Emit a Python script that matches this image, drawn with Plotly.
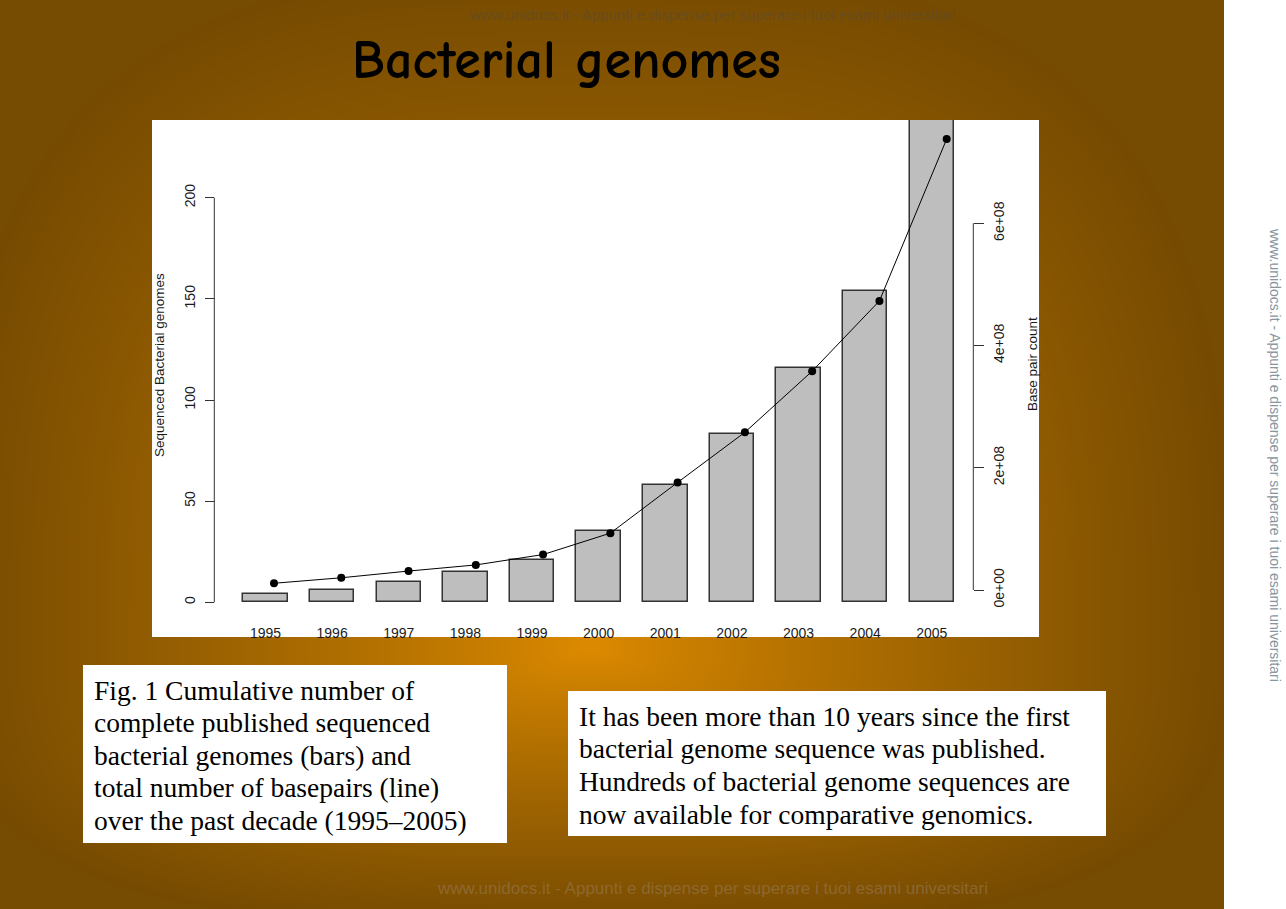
import base64
import struct
import zlib

import numpy as np
import plotly.graph_objects as go

# ---------------- data ----------------
years = [1995, 1996, 1997, 1998, 1999, 2000, 2001, 2002, 2003, 2004, 2005]
genomes = [4, 6, 10, 15, 21, 35, 58, 83, 116, 154, 240]
basepairs = [1.1e7, 2.0e7, 3.1e7, 4.1e7, 5.8e7, 9.3e7, 1.76e8, 2.58e8, 3.58e8, 4.73e8, 7.38e8]
year_labels = [str(y) for y in years]
left_ticks = [0, 50, 100, 150, 200]
right_ticks = [0, 2e8, 4e8, 6e8]
right_tick_labels = ["0e+00", "2e+08", "4e+08", "6e+08"]

title_text = "Bacterial genomes"
caption_lines = ["Fig. 1 Cumulative number of",
                 "complete published sequenced",
                 "bacterial genomes (bars) and",
                 "total number of basepairs (line)",
                 "over the past decade (1995–2005)"]
note_lines = ["It has been more than 10 years since the first",
              "bacterial genome sequence was published.",
              "Hundreds of bacterial genome sequences are",
              "now available for comparative genomics."]
watermark_text = "www.unidocs.it - Appunti e dispense per superare i tuoi esami universitari"

# ---------------- geometry helpers ----------------
W, H = 1286, 909


def px(x):
    return x / W


def py(y):
    return 1 - y / H


# ---------------- background gradient image ----------------
def make_png(rgb):
    h, w, _ = rgb.shape
    raw = b"".join(b"\x00" + rgb[i].tobytes() for i in range(h))

    def chunk(t, d):
        c = struct.pack(">I", len(d)) + t + d
        return c + struct.pack(">I", zlib.crc32(t + d) & 0xFFFFFFFF)

    return (b"\x89PNG\r\n\x1a\n"
            + chunk(b"IHDR", struct.pack(">IIBBBBB", w, h, 8, 2, 0, 0, 0))
            + chunk(b"IDAT", zlib.compress(raw, 9))
            + chunk(b"IEND", b""))


s = 2
gw, gh = W // s, H // s + 1
xs = (np.arange(gw) + 0.5) * s
ys = (np.arange(gh) + 0.5) * s
X, Y = np.meshgrid(xs, ys)
cx, cy = 590, 650
dx = np.abs(X - cx) / 640
dy = np.where(Y < cy, (cy - Y) / 680, (Y - cy) / 280)
t = np.clip((dx ** 3 + dy ** 3) ** (1 / 3), 0, 1) ** 0.85
c0 = np.array([222, 139, 0], float)
c1 = np.array([118, 75, 2], float)
rgb = (c0 + (c1 - c0) * t[..., None]).clip(0, 255).astype(np.uint8)
bg_src = "data:image/png;base64," + base64.b64encode(make_png(rgb)).decode()

# ---------------- axis calibration ----------------
plot_l, plot_r, plot_t, plot_b = 152, 1039, 120, 637
bar_step = 66.63
bar_x0 = years[0] - (265.5 - plot_l) / bar_step
bar_x1 = years[0] + (plot_r - 265.5) / bar_step
dot_step = 67.27
dot_x0 = years[0] - (274 - plot_l) / dot_step
dot_x1 = years[0] + (plot_r - 274) / dot_step

y0_px, y200_px = 602.3, 197.7
ys_scale = (y0_px - y200_px) / 200
yl_lo = -(plot_b - y0_px) / ys_scale
yl_hi = (y0_px - plot_t) / ys_scale

r0_px, r6_px = 590.0, 223.3
rs_scale = (r0_px - r6_px) / 6e8
yr_lo = -(plot_b - r0_px) / rs_scale
yr_hi = (r0_px - plot_t) / rs_scale

axis_font = dict(family="Liberation Sans, Arial, sans-serif", size=14, color="#1a1a1a")
title_font = dict(family="Liberation Sans, Arial, sans-serif", size=13.5, color="#1a1a1a")
serif_font = dict(family="Liberation Serif, Times New Roman, serif", size=27.5, color="#000000")

fig = go.Figure()
fig.add_trace(go.Bar(
    x=years, y=genomes, width=0.668,
    marker=dict(color="#bebebe", line=dict(color="#333333", width=1.5)),
    xaxis="x", yaxis="y", showlegend=False, hoverinfo="skip",
))
fig.add_trace(go.Scatter(
    x=years, y=basepairs, mode="lines+markers",
    line=dict(color="#000000", width=1),
    marker=dict(color="#000000", size=8),
    xaxis="x2", yaxis="y2", showlegend=False, hoverinfo="skip",
))

annotations = [
    dict(text=title_text, xref="paper", yref="paper", x=px(566), y=py(60),
         showarrow=False, xanchor="center", yanchor="middle",
         font=dict(family="Comic Sans MS, Comic Neue, DejaVu Sans Condensed, sans-serif",
                   size=54, color="#000000", weight="bold")),
    dict(text="Sequenced Bacterial genomes", xref="paper", yref="paper",
         x=px(159), y=py(365), textangle=-90, showarrow=False,
         xanchor="center", yanchor="middle", font=title_font),
    dict(text="Base pair count", xref="paper", yref="paper",
         x=px(1032), y=py(364), textangle=-90, showarrow=False,
         xanchor="center", yanchor="middle", font=title_font),
    dict(text=watermark_text, xref="paper", yref="paper", x=px(1275), y=py(455),
         textangle=90, showarrow=False, xanchor="center", yanchor="middle",
         font=dict(family="Liberation Sans Narrow, Liberation Sans, sans-serif", size=14, color="#8896a0")),
    dict(text=watermark_text, xref="paper", yref="paper", x=px(712), y=py(888),
         showarrow=False, xanchor="center", yanchor="middle",
         font=dict(family="Liberation Sans, sans-serif", size=17, color="rgba(150,120,80,0.6)")),
    dict(text=watermark_text, xref="paper", yref="paper", x=px(712), y=py(15),
         showarrow=False, xanchor="center", yanchor="middle",
         font=dict(family="Liberation Sans, sans-serif", size=15, color="rgba(80,75,70,0.45)")),
]
for i, line in enumerate(caption_lines):
    annotations.append(dict(text=line, xref="paper", yref="paper", x=px(92), y=py(690 + 32.6 * i),
                            showarrow=False, xanchor="left", yanchor="middle", font=serif_font))
for i, line in enumerate(note_lines):
    annotations.append(dict(text=line, xref="paper", yref="paper", x=px(577), y=py(716 + 32.7 * i),
                            showarrow=False, xanchor="left", yanchor="middle", font=serif_font))

fig.update_layout(
    width=W, height=H,
    margin=dict(l=0, r=0, t=0, b=0),
    paper_bgcolor="#ffffff",
    plot_bgcolor="#ffffff",
    bargap=0,
    xaxis=dict(
        domain=[px(plot_l), px(plot_r)], range=[bar_x0, bar_x1],
        anchor="free", position=py(623),
        tickmode="array", tickvals=years, ticktext=year_labels,
        ticks="", showline=False, showgrid=False, zeroline=False,
        tickfont=axis_font,
    ),
    xaxis2=dict(
        overlaying="x", range=[dot_x0, dot_x1], visible=False,
        domain=[px(plot_l), px(plot_r)],
    ),
    yaxis=dict(
        domain=[py(plot_b), py(plot_t)], range=[yl_lo, yl_hi],
        anchor="free", position=px(214.3),
        tickmode="array", tickvals=left_ticks,
        ticks="outside", ticklen=9, tickcolor="#333333", tickwidth=1,
        tickangle=-90, showline=False, showgrid=False, zeroline=False,
        tickfont=axis_font, ticklabelstandoff=5,
    ),
    yaxis2=dict(
        overlaying="y", side="right", range=[yr_lo, yr_hi],
        anchor="free", position=px(973.3),
        tickmode="array", tickvals=right_ticks, ticktext=right_tick_labels,
        ticks="outside", ticklen=10, tickcolor="#333333", tickwidth=1,
        tickangle=-90, showline=False, showgrid=False, zeroline=False,
        tickfont=axis_font, ticklabelstandoff=3,
    ),
    images=[dict(
        source=bg_src, xref="paper", yref="paper", x=0, y=1,
        sizex=1, sizey=1, sizing="stretch", layer="below",
        xanchor="left", yanchor="top",
    )],
    shapes=[
        # white strip at the right of the slide
        dict(type="rect", xref="paper", yref="paper", x0=px(1224), x1=1, y0=0, y1=1,
             fillcolor="#ffffff", line=dict(width=0), layer="below"),
        # white chart panel
        dict(type="rect", xref="paper", yref="paper", x0=px(plot_l), x1=px(plot_r),
             y0=py(plot_b), y1=py(plot_t), fillcolor="#ffffff", line=dict(width=0), layer="below"),
        # axis lines (R style: span only the tick range)
        dict(type="line", xref="paper", yref="y", x0=px(214.3), x1=px(214.3),
             y0=left_ticks[0], y1=left_ticks[-1], line=dict(color="#333333", width=1)),
        dict(type="line", xref="paper", yref="y2", x0=px(973.3), x1=px(973.3),
             y0=right_ticks[0], y1=right_ticks[-1], line=dict(color="#333333", width=1)),
        # text boxes
        dict(type="rect", xref="paper", yref="paper", x0=px(83), x1=px(507),
             y0=py(843), y1=py(665), fillcolor="#ffffff", line=dict(width=0)),
        dict(type="rect", xref="paper", yref="paper", x0=px(568), x1=px(1106),
             y0=py(836), y1=py(691), fillcolor="#ffffff", line=dict(width=0)),
    ],
    annotations=annotations,
)

fig.write_html("out.html")
